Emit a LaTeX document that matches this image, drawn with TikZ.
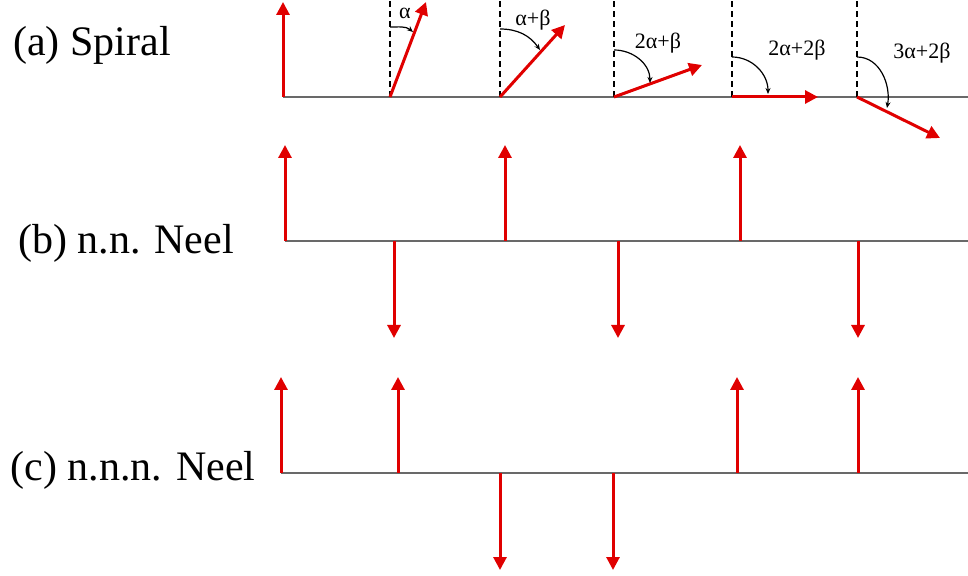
\documentclass[tikz,border=0pt]{standalone}
\usepackage{fontspec}
\setmainfont{Liberation Serif}
\usetikzlibrary{arrows.meta}
\definecolor{spinred}{RGB}{224,0,0}
\definecolor{axisgray}{RGB}{105,105,105}
\begin{document}
\begin{tikzpicture}[x=1pt,y=1pt,
  spin/.style={draw=spinred,line width=3pt,-{Triangle[length=13pt,width=13pt]}},
  axisline/.style={draw=axisgray,line width=1.5pt},
  refline/.style={draw=black,line width=1.4pt,dash pattern=on 6pt off 4pt},
  anglearc/.style={draw=black,line width=1.2pt,-{Stealth[length=6pt,width=5pt]}},
  rowlabel/.style={font=\fontsize{42}{48}\selectfont,inner sep=0pt},
  anglelabel/.style={font=\fontsize{22}{26}\selectfont,inner sep=0pt}]
\useasboundingbox (0,0) rectangle (968,575);

% ---------- (a) Spiral ----------
\node[rowlabel] (la) at (92,530) {(a) Spiral};
\coordinate (a0) at (283,478);
\coordinate (aend) at (968,478);
\draw[axisline] (a0) -- (aend);
\coordinate (a1) at (390,478);
\coordinate (a2) at (500,478);
\coordinate (a3) at (614,478);
\coordinate (a4) at (732,478);
\coordinate (a5) at (857,478);
\foreach \s in {a1,a2,a3,a4,a5}{\coordinate (\s top) at ([yshift=97pt]\s);\draw[refline] (\s) -- (\s top);}
\coordinate (t0) at (283,573);
\coordinate (t1) at (426,573);
\coordinate (t2) at (565,550);
\coordinate (t3) at (702,510);
\coordinate (t4) at (818,478);
\coordinate (t5) at (940,437);
\draw[spin] (a0) -- (t0);
\draw[spin] (a1) -- (t1);
\draw[spin] (a2) -- (t2);
\draw[spin] (a3) -- (t3);
\draw[spin] (a4) -- (t4);
\draw[spin] (a5) -- (t5);
% angle arcs
\coordinate (s1) at (390,548); \coordinate (e1) at (413,543);
\coordinate (s2) at (500,546); \coordinate (e2) at (540,525);
\coordinate (s3) at (614,525); \coordinate (e3) at (650,492);
\coordinate (s4) at (732,518); \coordinate (e4) at (768,481);
\coordinate (s5) at (857,518); \coordinate (e5) at (887,467);
\draw[anglearc] (s1) to[out=0,in=140] (e1);
\draw[anglearc] (s2) to[out=0,in=125] (e2);
\draw[anglearc] (s3) to[out=0,in=90] (e3);
\draw[anglearc] (s4) to[out=0,in=90] (e4);
\draw[anglearc] (s5) to[out=0,in=80] (e5);
\node[anglelabel] (g1) at (405,562) {α};
\node[anglelabel] (g2) at (533,555) {α+β};
\node[anglelabel] (g3) at (658,532) {2α+β};
\node[anglelabel] (g4) at (797,525) {2α+2β};
\node[anglelabel] (g5) at (922,522) {3α+2β};

% ---------- (b) n.n. Neel ----------
\node[rowlabel] (lb) at (126,332) {(b) n.n. Neel};
\coordinate (b0) at (285,334);
\coordinate (bend) at (968,334);
\draw[axisline] (b0) -- (bend);
\foreach \x/\d [count=\i] in {285/1,394/-1,505/1,618/-1,740/1,858/-1}{
  \coordinate (b\i) at (\x,334);
  \ifnum\d=1 \coordinate (bt\i) at (\x,430); \else \coordinate (bt\i) at (\x,237); \fi
  \draw[spin] (b\i) -- (bt\i);
}

% ---------- (c) n.n.n. Neel ----------
\node[rowlabel] (lc) at (133,105) {(c) n.n.n. Neel};
\coordinate (c0) at (281,102);
\coordinate (cend) at (968,102);
\draw[axisline] (c0) -- (cend);
\foreach \x/\d [count=\i] in {281/1,398/1,500/-1,613/-1,737/1,858/1}{
  \coordinate (c\i) at (\x,102);
  \ifnum\d=1 \coordinate (ct\i) at (\x,198); \else \coordinate (ct\i) at (\x,5); \fi
  \draw[spin] (c\i) -- (ct\i);
}
\end{tikzpicture}
\end{document}
